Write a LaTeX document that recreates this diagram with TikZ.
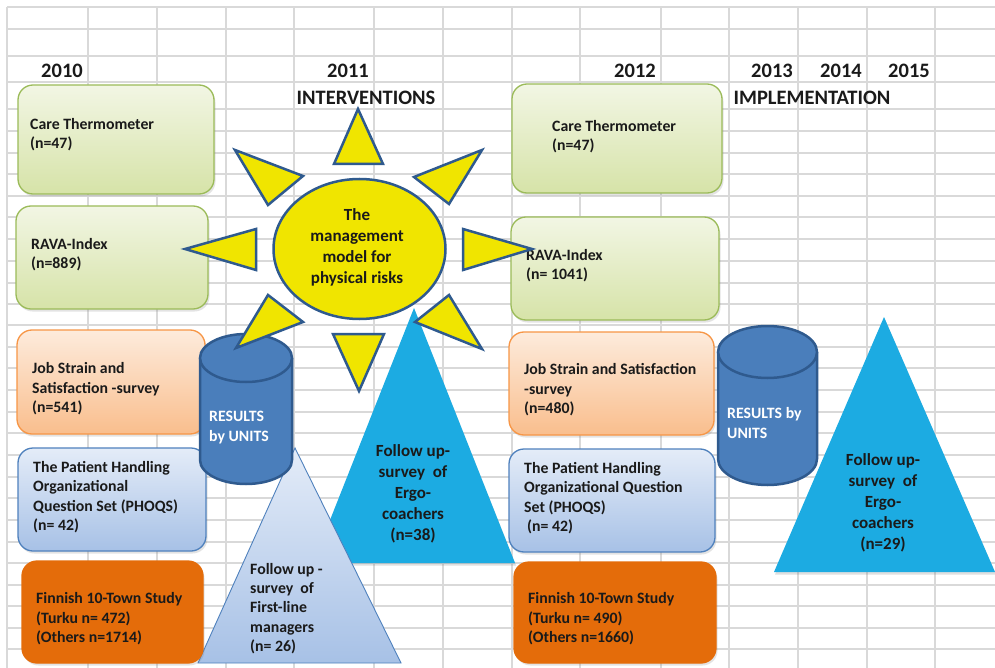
\documentclass[tikz,border=0pt]{standalone}
\usepackage{fontspec}
\setmainfont{Carlito}
\usetikzlibrary{shadows}
\definecolor{gridc}{HTML}{D9D9D9}
\definecolor{textc}{HTML}{1A1A1A}
\definecolor{greenb}{HTML}{9BBB59}
\definecolor{greent}{HTML}{F2F6E4}
\definecolor{greenbot}{HTML}{D6E3A8}
\definecolor{orangeb}{HTML}{F79646}
\definecolor{oranget}{HTML}{FDEBDC}
\definecolor{orangebot}{HTML}{F9BE8D}
\definecolor{blueb}{HTML}{4F81BD}
\definecolor{bluet}{HTML}{E4ECF8}
\definecolor{bluebot}{HTML}{A7C1E6}
\definecolor{darkor}{HTML}{E46C0A}
\definecolor{cylf}{HTML}{4A7EBB}
\definecolor{cylb}{HTML}{2F5A8E}
\definecolor{sunf}{HTML}{F0E500}
\definecolor{sunb}{HTML}{2F5A8E}
\definecolor{cyanc}{HTML}{1CABE2}
\begin{document}
\begin{tikzpicture}[x=1pt,y=-1pt,
  gridline/.style={gridc, line width=1.3pt},
  box/.style={rounded corners=15pt, line width=1.3pt, inner sep=0pt,
    drop shadow={shadow xshift=1.5pt, shadow yshift=-2.5pt, opacity=0.22}},
  greenbox/.style={box, draw=greenb, top color=greent, bottom color=greenbot},
  orangebox/.style={box, draw=orangeb, top color=oranget, bottom color=orangebot},
  bluebox/.style={box, draw=blueb, top color=bluet, bottom color=bluebot},
  darkbox/.style={box, draw=darkor, fill=darkor},
  txt/.style={font=\fontsize{15.8}{19.4}\selectfont\bfseries, text=textc, align=left, inner sep=0pt, anchor=west},
  wtxt/.style={txt, text=white},
  head/.style={font=\fontsize{20.5}{24}\selectfont\bfseries, text=textc, inner sep=0pt},
  big/.style={font=\fontsize{17}{21}\selectfont\bfseries, text=textc, align=center, inner sep=0pt},
  ray/.style={fill=sunf, draw=sunb, line width=2.5pt},
  cyl/.style={line width=2.5pt, draw=cylb},
  cyantri/.style={fill=cyanc, drop shadow={shadow xshift=1pt, shadow yshift=-2.5pt, opacity=0.25}},
  lighttri/.style={draw=blueb, line width=0.9pt, top color=bluet, bottom color=bluebot}
]
\useasboundingbox (0,0) rectangle (995,668);
\fill[white] (0,0) rectangle (995,668);
% grid
\foreach \gx in {7,88,157,226,294,374,443,512,580,661,729,798,867,935}
  \draw[gridline] (\gx,7) -- (\gx,668);
\foreach \gy in {7,29,56,82,109,131,153,174,196,217,239,261,283,304,325,347,368,390,412,433,455,477,498,520,542,563,585,606,628,649}
  \draw[gridline] (7,\gy) -- (995,\gy);

% headings
\node[head] (y2010) at (62,71) {2010};
\node[head] (y2011) at (348,71) {2011};
\node[head] (interv) at (366,98) {INTERVENTIONS};
\node[head] (y2012) at (635,71) {2012};
\node[head] (y2013) at (772,71) {2013};
\node[head] (y2014) at (841,71) {2014};
\node[head] (y2015) at (909,71) {2015};
\node[head] (impl) at (812,98) {IMPLEMENTATION};

% triangles behind
\fill[cyantri] (414,308) -- (313,563) -- (515,563) -- cycle;
\draw[lighttri] (295,448) -- (198,663) -- (401,663) -- cycle;
\node[big] (ergo1) at (413,494) {Follow up-\\survey\ \ of\\Ergo-\\coachers\\(n=38)};
\node[txt] (first) at (250,608.5) {Follow up -\\survey\ \ of\\First-line\\managers\\(n= 26)};

% 2010 boxes
\node[greenbox, minimum width=196pt, minimum height=109pt] (ct1box) at (116,139.5) {};
\node[greenbox, minimum width=192pt, minimum height=103pt] (rv1box) at (112,257.5) {};
\node[orangebox, minimum width=188pt, minimum height=104pt] (js1box) at (111,382) {};
\node[bluebox, minimum width=188pt, minimum height=103pt] (ph1box) at (112,499.5) {};
\node[darkbox, minimum width=181pt, minimum height=102pt] (fi1box) at (112.5,612) {};
\node[txt] (ct1) at (30,134.5) {Care Thermometer\\(n=47)};
\node[txt] (rv1) at (31,254.5) {RAVA-Index\\(n=889)};
\node[txt] (js1) at (32,389) {Job Strain and\\Satisfaction -survey\\(n=541)};
\node[txt] (ph1) at (33,497) {The Patient Handling\\Organizational\\Question Set (PHOQS)\\(n= 42)};
\node[txt] (fi1) at (36,619) {Finnish 10-Town Study\\(Turku n= 472)\\(Others n=1714)};

% 2012 boxes
\node[greenbox, minimum width=210pt, minimum height=109pt] (ct2box) at (617,138.5) {};
\node[greenbox, minimum width=208pt, minimum height=103pt] (rv2box) at (615,268.5) {};
\node[orangebox, minimum width=205pt, minimum height=103pt] (js2box) at (611.5,383.5) {};
\node[bluebox, minimum width=206pt, minimum height=103pt] (ph2box) at (612,500.5) {};
\node[darkbox, minimum width=202pt, minimum height=101pt] (fi2box) at (615,612.5) {};
\node[txt] (ct2) at (552,136.5) {Care Thermometer\\(n=47)};
\node[txt] (rv2) at (526,265.5) {RAVA-Index\\(n= 1041)};
\node[txt] (js2) at (524,390) {Job Strain and Satisfaction\\-survey\\(n=480)};
\node[txt] (ph2) at (524,498) {The Patient Handling\\Organizational Question\\Set (PHOQS)\\\hspace{3pt}(n= 42)};
\node[txt] (fi2) at (528,619) {Finnish 10-Town Study\\(Turku n= 490)\\(Others n=1660)};

% cylinder 2011
\fill[cylf] (200,358) rectangle (292,460);
\fill[cylf] (246,460) ellipse [x radius=46, y radius=24];
\draw[cyl] (200,358) -- (200,460) arc[start angle=180, end angle=0, x radius=46, y radius=24] -- (292,358);
\filldraw[cyl, fill=cylf] (246,358) ellipse [x radius=46, y radius=24];
\node[wtxt] (res1) at (209,427.5) {RESULTS\\by UNITS};

% sun rays
\filldraw[ray] (358,109) -- (334,164) -- (383,164) -- cycle;
\filldraw[ray] (359,391) -- (333,334) -- (384,334) -- cycle;
\filldraw[ray] (185,249) -- (256,229) -- (256,270) -- cycle;
\filldraw[ray] (532,249) -- (463,229) -- (463,270) -- cycle;
\filldraw[ray] (235,150) -- (303,176) -- (268,205) -- cycle;
\filldraw[ray] (482,150) -- (414,177) -- (449,204) -- cycle;
\filldraw[ray] (236,348) -- (268,295) -- (303,322) -- cycle;
\filldraw[ray] (482,349) -- (449,295) -- (415,322) -- cycle;
\filldraw[ray] (359.5,249) ellipse [x radius=86, y radius=70];
\node[big] (sun) at (357,247.5) {The\\management\\model for\\physical risks};

% cylinder 2012
\fill[cylf] (718,352) rectangle (817,459);
\fill[cylf] (767.5,459) ellipse [x radius=49.5, y radius=26];
\draw[cyl] (718,352) -- (718,459) arc[start angle=180, end angle=0, x radius=49.5, y radius=26] -- (817,352);
\filldraw[cyl, fill=cylf] (767.5,352) ellipse [x radius=49.5, y radius=26];
\node[wtxt] (res2) at (727,423) {RESULTS by\\UNITS};

% cyan triangle 2012
\fill[cyantri] (884,317) -- (774,572) -- (995,572) -- cycle;
\node[big] (ergo2) at (883,503) {Follow up-\\survey\ \ of\\Ergo-\\coachers\\(n=29)};
\end{tikzpicture}
\end{document}
